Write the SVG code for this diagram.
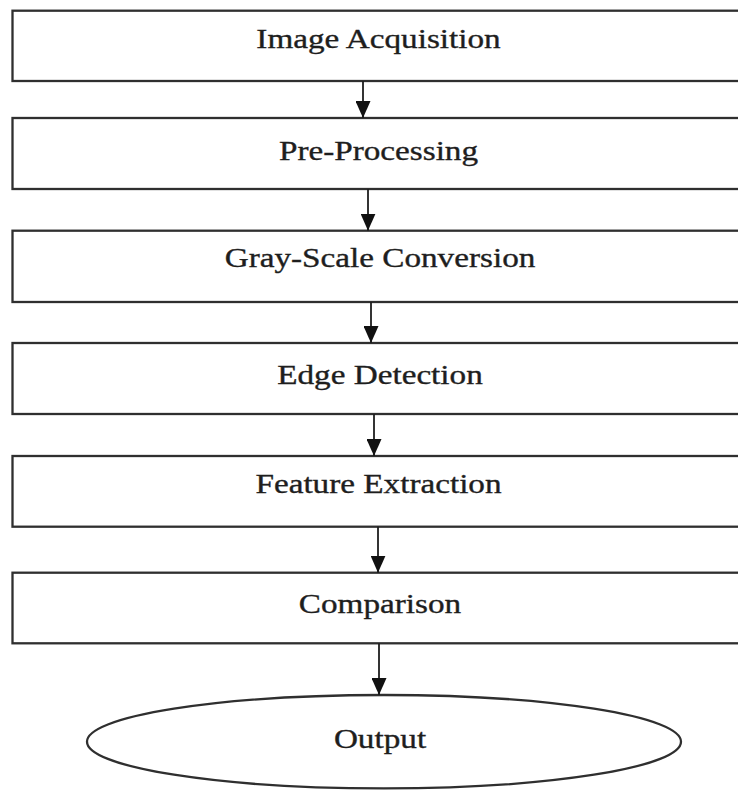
<svg xmlns="http://www.w3.org/2000/svg" width="738" height="791" viewBox="0 0 738 791">
  <style>
    .box { fill: #ffffff; stroke: #2f2f2f; stroke-width: 2.3; }
    .lbl { font-family: "Liberation Serif", "Times New Roman", serif; font-size: 27px; fill: #1e1e1e; stroke: #1e1e1e; stroke-width: 0.35; text-anchor: middle; }
    .conn { stroke: #1e1e1e; stroke-width: 1.8; fill: none; marker-end: url(#arrow); }
  </style>
  <defs>
    <marker id="arrow" markerUnits="userSpaceOnUse" viewBox="0 0 17 15" refX="17" refY="7.5" markerWidth="17" markerHeight="15" orient="auto">
      <path d="M0,0 L17,7.5 L0,15 z" fill="#111111"/>
    </marker>
  </defs>
  <rect x="0" y="0" width="738" height="791" fill="#ffffff"/>

  <g id="node-image-acquisition">
    <rect class="box" x="12.5" y="10.7" width="760" height="70.3"/>
    <text class="lbl" transform="translate(378.5,48.3) scale(1.23,1)">Image Acquisition</text>
  </g>
  <g id="node-pre-processing">
    <rect class="box" x="12.5" y="118" width="760" height="71"/>
    <text class="lbl" transform="translate(378.5,160) scale(1.23,1)">Pre-Processing</text>
  </g>
  <g id="node-gray-scale">
    <rect class="box" x="12.5" y="230.7" width="760" height="71.3"/>
    <text class="lbl" transform="translate(380,267.3) scale(1.23,1)">Gray-Scale Conversion</text>
  </g>
  <g id="node-edge-detection">
    <rect class="box" x="12.5" y="343" width="760" height="71"/>
    <text class="lbl" transform="translate(380,384) scale(1.23,1)">Edge Detection</text>
  </g>
  <g id="node-feature-extraction">
    <rect class="box" x="12.5" y="456" width="760" height="70.7"/>
    <text class="lbl" transform="translate(378.5,493.3) scale(1.23,1)">Feature Extraction</text>
  </g>
  <g id="node-comparison">
    <rect class="box" x="12.5" y="572.7" width="760" height="70.6"/>
    <text class="lbl" transform="translate(380,613.3) scale(1.23,1)">Comparison</text>
  </g>
  <g id="node-output">
    <ellipse class="box" cx="384" cy="741.7" rx="297" ry="46.7"/>
    <text class="lbl" transform="translate(380,748.3) scale(1.23,1)">Output</text>
  </g>

  <g id="connectors">
    <line class="conn" x1="363" y1="81" x2="363" y2="118"/>
    <line class="conn" x1="368" y1="189" x2="368" y2="230.7"/>
    <line class="conn" x1="371" y1="302" x2="371" y2="343"/>
    <line class="conn" x1="374" y1="414" x2="374" y2="456"/>
    <line class="conn" x1="378" y1="526.7" x2="378" y2="572.7"/>
    <line class="conn" x1="379" y1="643.3" x2="379" y2="695"/>
  </g>
</svg>
